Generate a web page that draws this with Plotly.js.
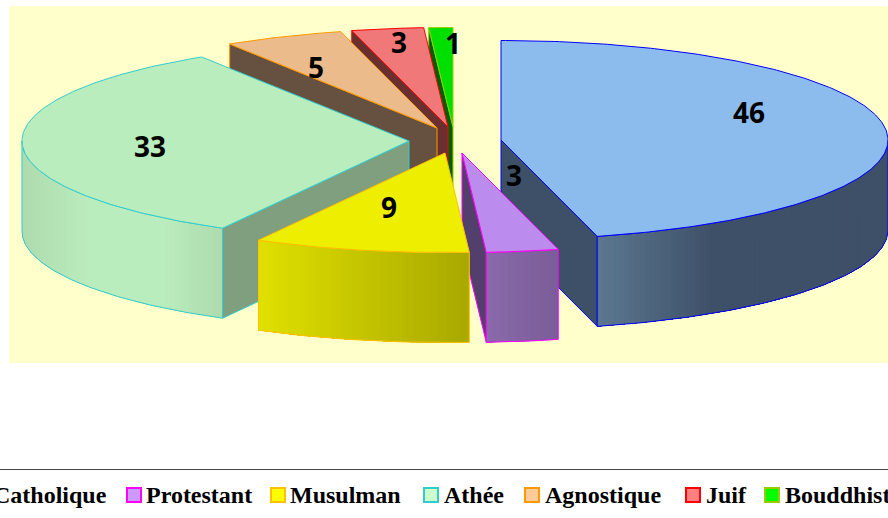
<!DOCTYPE html>
<html>
<head>
<meta charset="utf-8">
<script src="https://cdn.plot.ly/plotly-3.0.1.min.js"></script>
<style>html,body{margin:0;padding:0;background:#fff;overflow:hidden}#chart{width:888px;height:518px}</style>
</head>
<body>
<div id="chart"></div>
<script>
// Data
const categories = ["Catholique","Protestant","Musulman","Athée","Agnostique","Juif","Bouddhiste"];
const values = [46,3,9,33,5,3,1];

// Styles
const topColors  = ["#8CBBEE","#BB8CEE","#EEEE00","#BAEDBE","#ECBB8C","#F07878","#00E000"];
const edgeColors = ["#0000FF","#FF00FF","#FFC000","#33CCCC","#FF9900","#FF0000","#99CC00"];
const faceColors = ["#3E5068","#533F6B",null,"#7F9F7F","#665040","#6A3030","#006000"];
const wallStops  = [
  [[0,"#5B7890"],[0.4,"#3E5068"],[1,"#3E5068"]],
  [[0,"#8A6AAA"],[1,"#7A5C98"]],
  [[0,"#E0E000"],[1,"#A8A800"]],
  [[0,"#AEDBAE"],[0.35,"#BAEDBE"],[0.7,"#BAEDBE"],[1,"#AEDBAE"]],
  [[0,"#665040"],[1,"#665040"]],
  [[0,"#6A3030"],[1,"#6A3030"]],
  [[0,"#006000"],[1,"#006000"]]
];
const swatchFill = ["#99CCFF","#CC99FF","#FFFF00","#CCFFCC","#FFCC99","#FF8080","#00FF00"];

// Layout geometry
const apexX = [501,462,445,409,437,448,453];
const apexY = [140,153,153,141,128,127,127];
const radiusX = 387, radiusY = 99.5, depth = 90;
const labelX = [749,514,389,150,316,399,453];
const labelY = [116,179,211,150,71,46,47];
const swatchX = [-31,134,278,431,532,693,772];
const legendTextX = [108,145,289,443,544,705,784];
const drawOrder = [6,5,4,0,3,1,2];
const legendY = 495;

const total = values.reduce((a,b)=>a+b,0);
const starts = [], ends = [];
values.reduce((acc,v,i)=>{starts[i]=acc/total*360; ends[i]=(acc+v)/total*360; return acc+v;},0);

const rad = d => d*Math.PI/180;
const px = (i,t) => apexX[i]+radiusX*Math.sin(rad(t));
const py = (i,t) => apexY[i]-radiusY*Math.cos(rad(t));
function hexMix(stops,f){
  for(let k=1;k<stops.length;k++){
    if(f<=stops[k][0]){
      const a=stops[k-1],b=stops[k],u=(f-a[0])/((b[0]-a[0])||1);
      const c=n=>Math.round(parseInt(a[1].substr(n,2),16)*(1-u)+parseInt(b[1].substr(n,2),16)*u);
      return `rgb(${c(1)},${c(3)},${c(5)})`;
    }
  }
  return stops[stops.length-1][1];
}
const poly=(xs,ys,fill,line,w)=>({type:"scatter",mode:"lines",x:xs.concat(xs[0]),y:ys.concat(ys[0]),
  fill:"toself",fillcolor:fill,line:{color:line,width:w},hoverinfo:"skip",showlegend:false});

const traces=[];
drawOrder.forEach(i=>{
  const a=starts[i], b=ends[i];
  // cut face
  const cut = a>180 ? a : (b<180 ? b : null);
  if(cut!==null){
    traces.push(poly(
      [apexX[i],px(i,cut),px(i,cut),apexX[i]],
      [apexY[i],py(i,cut),py(i,cut)+depth,apexY[i]+depth],
      faceColors[i],edgeColors[i],1));
  }
  // outer wall, front half only: painter's strips, each reaching to the wall's far end
  const w0=Math.max(a,90), w1=Math.min(b,270);
  if(w1>w0){
    const x0=px(i,w0), x1=px(i,w1);
    const n=Math.max(6,Math.round((w1-w0)*1.2));
    for(let k=0;k<n;k++){
      const t0=w0+(w1-w0)*k/n, t1=w0+(w1-w0)*(k+1)/n;
      const mid=(px(i,t0)+px(i,t1))/2;
      const f=(mid-Math.min(x0,x1))/Math.abs(x1-x0);
      const col=hexMix(wallStops[i],f);
      const sx=[],sy=[];
      for(let q=k;q<=n;q++){const t=w0+(w1-w0)*q/n;sx.push(px(i,t));sy.push(py(i,t));}
      for(let q=n;q>=k;q--){const t=w0+(w1-w0)*q/n;sx.push(px(i,t));sy.push(py(i,t)+depth);}
      traces.push(poly(sx,sy,col,col,0));
    }
    const ox=[],oy=[];
    for(let k=0;k<=n;k++){const t=w0+(w1-w0)*k/n;ox.push(px(i,t));oy.push(py(i,t));}
    for(let k=n;k>=0;k--){const t=w0+(w1-w0)*k/n;ox.push(px(i,t));oy.push(py(i,t)+depth);}
    traces.push({type:"scatter",mode:"lines",x:ox.concat(ox[0]),y:oy.concat(oy[0]),
      line:{color:edgeColors[i],width:1},hoverinfo:"skip",showlegend:false});
  }
  // top surface
  const xs=[apexX[i]],ys=[apexY[i]];
  const m=Math.max(4,Math.round((b-a)*1.5));
  for(let k=0;k<=m;k++){const t=a+(b-a)*k/m;xs.push(px(i,t));ys.push(py(i,t));}
  traces.push(poly(xs,ys,topColors[i],edgeColors[i],1));
});

// value labels
traces.push({type:"scatter",mode:"text",x:labelX,y:labelY,text:values.map(v=>"<b>"+v+"</b>"),
  textposition:"middle center",textfont:{family:"Noto Sans, sans-serif",size:28,color:"#000"},
  hoverinfo:"skip",showlegend:false});

// legend swatches
traces.push({type:"scatter",mode:"markers",x:swatchX,y:swatchX.map(()=>legendY),
  marker:{symbol:"square",size:14,color:swatchFill,line:{color:edgeColors,width:2}},
  hoverinfo:"skip",showlegend:false});

const annotations=categories.map((c,i)=>({
  xref:"x",yref:"y",x:legendTextX[i],y:legendY-0.5,
  xanchor:i===0?"right":"left",yanchor:"middle",showarrow:false,borderpad:0,
  text:"<b>"+c+"</b>",align:"left",
  font:{family:"Liberation Serif, serif",size:24,color:"#000"}
}));

const layout={
  width:888,height:518,margin:{l:0,r:0,t:0,b:0},
  paper_bgcolor:"#fff",plot_bgcolor:"#fff",showlegend:false,
  xaxis:{range:[0,888],visible:false,fixedrange:true},
  yaxis:{range:[518,0],visible:false,fixedrange:true},
  shapes:[
    {type:"rect",layer:"below",xref:"x",yref:"y",x0:9,x1:888,y0:6,y1:363,fillcolor:"#FFFFCC",line:{width:0}},
    {type:"line",layer:"below",xref:"x",yref:"y",x0:0,x1:888,y0:469.5,y1:469.5,line:{color:"#444",width:1}}
  ],
  annotations
};
Plotly.newPlot("chart",traces,layout,{displayModeBar:false,staticPlot:true});
</script>
</body>
</html>
